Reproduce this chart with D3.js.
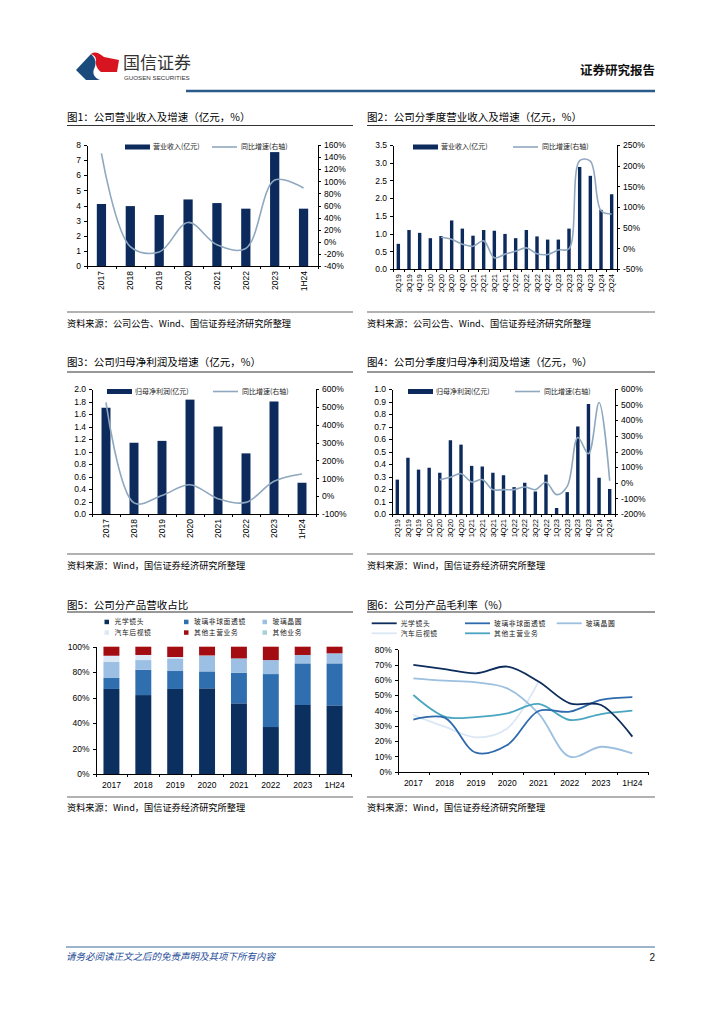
<!DOCTYPE html>
<meta charset="utf-8">
<style>
body { margin: 0; background: #fff; }
svg text { font-family: "Liberation Sans", Arial, sans-serif; }
.cn { font-family: "Noto Sans CJK SC", sans-serif; }
.axis path, .axis line { stroke: #000; shape-rendering: crispEdges; }
.axis text { font-family: "Liberation Sans", Arial, sans-serif; fill: #000; }
</style>
<body>
<script src="https://d3js.org/d3.v7.min.js"></script>
<script>
// ---------------- data ----------------
var years = ["2017", "2018", "2019", "2020", "2021", "2022", "2023", "1H24"];
var quarters = ["2Q19", "3Q19", "4Q19", "1Q20", "2Q20", "3Q20", "4Q20", "1Q21", "2Q21", "3Q21", "4Q21",
                "1Q22", "2Q22", "3Q22", "4Q22", "1Q23", "2Q23", "3Q23", "4Q23", "1Q24", "2Q24"];

// fig 1
var revenue = [4.10, 3.96, 3.37, 4.40, 4.16, 3.79, 7.53, 3.79];
var revenueYoy = [146, -8, -17, 32, -5, -11, 102, 89];
// fig 2
var qRevenue = [0.71, 1.10, 1.02, 0.87, 0.93, 1.37, 1.14, 0.94, 1.10, 1.08, 0.99,
                0.87, 1.10, 0.92, 0.83, 0.83, 1.14, 2.88, 2.63, 1.67, 2.11];
var qRevenueYoy = [null, null, null, null, 27, 22, 10, 5, 18, -23, -14,
                   -7, 1, -13, -15, -4, -1, 212, 211, 91, 83];
// fig 3
var npYears = ["2017", "2018", "2019", "2020", "2021", "2022", "2023", "1H24"];
var netProfit = [1.70, 1.14, 1.17, 1.83, 1.40, 0.97, 1.80, 0.50];
var netProfitYoy = [525, -38, 4, 64, -14, -35, 83, 124];
// fig 4
var qNetProfit = [0.275, 0.45, 0.355, 0.37, 0.33, 0.59, 0.555, 0.385, 0.38, 0.33, 0.31,
                  0.215, 0.25, 0.18, 0.315, 0.048, 0.175, 0.70, 0.88, 0.29, 0.20];
var qNetProfitYoy = [null, null, null, null, 20, 35, 58, 5, 20, -44, -44,
                     -44, -27, -44, 3, -76, -23, 290, 186, 514, 13];
// fig 5 (share of revenue, %)
var products = ["光学镜头", "玻璃非球面透镜", "玻璃晶圆", "汽车后视镜", "其他主营业务", "其他业务"];
var shareOptical   = [66.8, 62.0, 66.8, 67.3, 55.5, 36.9, 54.2, 53.9];
var shareAspheric  = [8.6, 19.9, 14.1, 13.3, 24.1, 41.6, 32.7, 33.0];
var shareWafer     = [12.8, 7.6, 9.9, 12.3, 11.2, 11.0, 6.6, 7.9];
var shareMirror    = [4.7, 4.0, 1.1, 0.2, 0, 0, 0, 0];
var shareOtherMain = [7.1, 6.5, 8.1, 6.9, 9.2, 10.5, 6.5, 5.2];
var shareOther     = [0, 0, 0, 0, 0, 0, 0, 0];
// fig 6 (gross margin, %)
var marginNames = ["光学镜头", "玻璃非球面透镜", "玻璃晶圆", "汽车后视镜", "其他主营业务"];
var marginOptical   = [69.8, 67.1, 64.3, 68.7, 58.9, 44.7, 43.6, 22.9];
var marginAspheric  = [34.0, 35.3, 12.4, 17.4, 39.7, 39.2, 46.9, 48.8];
var marginWafer     = [61.0, 59.5, 58.4, 54.5, 38.1, 9.8, 16.3, 12.0];
var marginMirror    = [37.0, 29.4, 22.5, 28.3, 58.9, null, null, null];
var marginOtherMain = [50.1, 36.0, 35.7, 38.1, 44.3, 33.8, 37.7, 39.9];

var barColor = "#0c2a5b", lineColor = "#8fa8bf";
var pct = function(d) { return d + "%"; };

var svg = d3.select("body").append("svg").attr("width", 724).attr("height", 1024);

// ---------------- header / footer ----------------
// logo: blue wedge on the left, red flag on the right
svg.append("path").attr("d", "M76,70 L91,54 C97,59 96,65 94,69 C92,74 95,78 100,80 L86,80 Z").attr("fill", "#1b4a7d");
svg.append("path").attr("d", "M91,54 C95,51 99,53 104,57 L119,60 L117,72 L101,72 C97,69 95,64 96,60 C96,57 94,55 91,54 Z").attr("fill", "#d7141f");
svg.append("text").attr("class", "cn").attr("x", 123).attr("y", 69).attr("font-size", 17)
    .attr("fill", "#333").text("国信证券");
svg.append("text").attr("x", 124).attr("y", 79.5).attr("font-size", 6.2).attr("fill", "#333").text("GUOSEN SECURITIES");
svg.append("text").attr("class", "cn").attr("x", 655).attr("y", 75).attr("font-size", 12.5)
    .attr("font-weight", "bold").attr("text-anchor", "end").attr("fill", "#111").text("证券研究报告");
svg.append("line").attr("x1", 186).attr("x2", 655).attr("y1", 91).attr("y2", 91)
    .attr("stroke", "#2a5a8a").attr("stroke-width", 2.5);

svg.append("line").attr("x1", 66).attr("x2", 655).attr("y1", 947).attr("y2", 947)
    .attr("stroke", "#3a6a99").attr("stroke-width", 1);
svg.append("text").attr("class", "cn").attr("x", 66).attr("y", 960).attr("font-size", 9.5)
    .attr("font-style", "italic").attr("fill", "#1f4e9a").text("请务必阅读正文之后的免责声明及其项下所有内容");
svg.append("text").attr("x", 655).attr("y", 961).attr("font-size", 10).attr("text-anchor", "end")
    .attr("fill", "#111").text("2");

// ---------------- helpers ----------------
function frame(x0, x1, titleY, ruleY, sepY, srcY, title, source) {
  svg.append("text").attr("class", "cn").attr("x", x0).attr("y", titleY).attr("font-size", 10.5)
      .attr("fill", "#000").text(title);
  svg.append("line").attr("x1", x0).attr("x2", x1).attr("y1", ruleY).attr("y2", ruleY)
      .attr("stroke", "#333").attr("stroke-width", 1.2);
  svg.append("line").attr("x1", x0).attr("x2", x1).attr("y1", sepY).attr("y2", sepY)
      .attr("stroke", "#999").attr("stroke-width", 1.5);
  svg.append("text").attr("class", "cn").attr("x", x0).attr("y", srcY).attr("font-size", 9.2)
      .attr("fill", "#000").text(source);
}

function styleAxis(g, size) {
  g.attr("font-size", size).attr("font-family", "Liberation Sans, Arial, sans-serif");
  g.selectAll("text").attr("fill", "#000");
}

function bottomTicks(n, left, right, y) {
  var idx = d3.scaleLinear().domain([0, n]).range([left, right]);
  svg.append("g").attr("class", "axis").attr("transform", "translate(0," + y + ")")
      .call(d3.axisBottom(idx).tickValues(d3.range(n + 1)).tickSize(3).tickSizeOuter(0).tickFormat(""));
}

function combo(o) {
  var x = d3.scaleBand().domain(o.cats).range([o.left, o.right]).paddingInner(0.68).paddingOuter(0.34);
  var yL = d3.scaleLinear().domain(o.leftDomain).range([o.bottom, o.top]);
  var yR = d3.scaleLinear().domain(o.rightDomain).range([o.bottom, o.top]);
  var g = svg.append("g");

  g.selectAll("rect").data(o.bars).enter().append("rect")
      .attr("x", function(d, i) { return x(o.cats[i]); })
      .attr("width", x.bandwidth())
      .attr("y", function(d) { return yL(d); })
      .attr("height", function(d) { return yL(0) - yL(d); })
      .attr("fill", barColor);

  var line = d3.line()
      .defined(function(d) { return d[1] != null; })
      .x(function(d) { return x(d[0]) + x.bandwidth() / 2; })
      .y(function(d) { return yR(d[1]); })
      .curve(d3.curveCatmullRom.alpha(0.5));
  g.append("path").datum(o.cats.map(function(c, i) { return [c, o.yoy[i]]; }))
      .attr("d", line).attr("fill", "none").attr("stroke", lineColor).attr("stroke-width", 1.6);

  styleAxis(svg.append("g").attr("class", "axis").attr("transform", "translate(" + o.left + ",0)")
      .call(d3.axisLeft(yL).tickValues(o.leftTicks).tickSize(3).tickSizeOuter(0).tickFormat(o.leftFmt)), 8.5);
  styleAxis(svg.append("g").attr("class", "axis").attr("transform", "translate(" + o.right + ",0)")
      .call(d3.axisRight(yR).tickValues(o.rightTicks).tickSize(3).tickSizeOuter(0).tickFormat(pct)), 8.5);

  bottomTicks(o.cats.length, o.left, o.right, o.bottom);
  var xa = svg.append("g").attr("class", "axis").attr("transform", "translate(0," + o.bottom + ")")
      .call(d3.axisBottom(x).tickSize(0));
  xa.select(".domain").remove();
  styleAxis(xa, o.xFont);
  xa.selectAll("text").attr("transform", "rotate(-90)").attr("text-anchor", "end")
      .attr("x", -5).attr("y", 0).attr("dy", "0.35em");

  // legend
  svg.append("rect").attr("x", o.lg[0]).attr("y", o.lg[1] - 2.5).attr("width", 25).attr("height", 5).attr("fill", barColor);
  svg.append("text").attr("class", "cn").attr("x", o.lg[0] + 28).attr("y", o.lg[1]).attr("dy", "0.35em")
      .attr("font-size", 7).attr("fill", "#222").text(o.barName);
  svg.append("line").attr("x1", o.lg[2]).attr("x2", o.lg[2] + 25).attr("y1", o.lg[1]).attr("y2", o.lg[1])
      .attr("stroke", lineColor).attr("stroke-width", 1.6);
  svg.append("text").attr("class", "cn").attr("x", o.lg[2] + 29).attr("y", o.lg[1]).attr("dy", "0.35em")
      .attr("font-size", 7).attr("fill", "#222").text("同比增速(右轴)");
}

// ---------------- fig 1 ----------------
frame(67, 353, 121, 125.5, 312, 327, "图1：公司营业收入及增速（亿元，%）", "资料来源：公司公告、Wind、国信证券经济研究所整理");
combo({ cats: years, bars: revenue, yoy: revenueYoy, left: 87, right: 318, top: 145, bottom: 266,
  leftDomain: [0, 8], leftTicks: d3.range(0, 9), leftFmt: d3.format("d"),
  rightDomain: [-40, 160], rightTicks: d3.range(-40, 161, 20), xFont: 8.5,
  lg: [125, 147, 212], barName: "营业收入(亿元)" });

// ---------------- fig 2 ----------------
frame(367, 655, 121, 125.5, 312, 327, "图2：公司分季度营业收入及增速（亿元，%）", "资料来源：公司公告、Wind、国信证券经济研究所整理");
combo({ cats: quarters, bars: qRevenue, yoy: qRevenueYoy, left: 393, right: 617, top: 145, bottom: 269,
  leftDomain: [0, 3.5], leftTicks: d3.range(0, 3.51, 0.5), leftFmt: d3.format(".1f"),
  rightDomain: [-50, 250], rightTicks: d3.range(-50, 251, 50), xFont: 7.5,
  lg: [413, 147, 513], barName: "营业收入(亿元)" });

// ---------------- fig 3 ----------------
frame(67, 353, 366, 372, 554, 569, "图3：公司归母净利润及增速（亿元，%）", "资料来源：Wind，国信证券经济研究所整理");
combo({ cats: npYears, bars: netProfit, yoy: netProfitYoy, left: 92, right: 316, top: 389, bottom: 514,
  leftDomain: [0, 2], leftTicks: d3.range(0, 2.01, 0.2), leftFmt: d3.format(".1f"),
  rightDomain: [-100, 600], rightTicks: d3.range(-100, 601, 100), xFont: 8.5,
  lg: [107, 391.5, 213], barName: "归母净利润(亿元)" });

// ---------------- fig 4 ----------------
frame(367, 655, 366, 372, 554, 569, "图4：公司分季度归母净利润及增速（亿元，%）", "资料来源：Wind，国信证券经济研究所整理");
combo({ cats: quarters, bars: qNetProfit, yoy: qNetProfitYoy, left: 392, right: 615, top: 389, bottom: 514,
  leftDomain: [0, 1], leftTicks: d3.range(0, 1.01, 0.1), leftFmt: d3.format(".1f"),
  rightDomain: [-200, 600], rightTicks: d3.range(-200, 601, 100), xFont: 7.5,
  lg: [408, 391.5, 515], barName: "归母净利润(亿元)" });

// ---------------- fig 5 ----------------
frame(67, 353, 609, 612, 797, 811, "图5：公司分产品营收占比", "资料来源：Wind，国信证券经济研究所整理");
(function() {
  var left = 95.5, right = 350.5, top = 646.7, bottom = 774;
  var colors = ["#0b2f5f", "#2f6fb0", "#9cc0e3", "#dce8f5", "#a30d12", "#a9cfd8"];
  var series = [shareOptical, shareAspheric, shareWafer, shareMirror, shareOtherMain, shareOther];
  var table = years.map(function(y, i) {
    var row = { year: y };
    products.forEach(function(p, k) { row[p] = series[k][i]; });
    return row;
  });
  var stack = d3.stack().keys(products)(table);
  var x = d3.scaleBand().domain(years).range([left, right]).paddingInner(0.5).paddingOuter(0.25);
  var y = d3.scaleLinear().domain([0, 100]).range([bottom, top]);

  svg.append("g").selectAll("g").data(stack).enter().append("g")
      .attr("fill", function(d, k) { return colors[k]; })
    .selectAll("rect").data(function(d) { return d; }).enter().append("rect")
      .attr("x", function(d) { return x(d.data.year); })
      .attr("width", x.bandwidth())
      .attr("y", function(d) { return y(d[1]); })
      .attr("height", function(d) { return y(d[0]) - y(d[1]); });

  styleAxis(svg.append("g").attr("class", "axis").attr("transform", "translate(" + left + ",0)")
      .call(d3.axisLeft(y).tickValues(d3.range(0, 101, 20)).tickSize(3).tickSizeOuter(0).tickFormat(pct)), 8.5);
  bottomTicks(years.length, left, right, bottom);
  var xa = svg.append("g").attr("class", "axis").attr("transform", "translate(0," + bottom + ")")
      .call(d3.axisBottom(x).tickSize(0).tickPadding(8));
  xa.select(".domain").remove();
  styleAxis(xa, 8.5);

  var cols = [106.5, 186, 264.5], rows = [621.7, 632.3];
  products.forEach(function(p, k) {
    var cx = cols[k % 3], cy = rows[Math.floor(k / 3)];
    svg.append("rect").attr("x", cx - 2).attr("y", cy - 2).attr("width", 4.5).attr("height", 4.5).attr("fill", colors[k]);
    svg.append("text").attr("class", "cn").attr("x", cx + 8).attr("y", cy).attr("dy", "0.35em")
        .attr("font-size", 6.8).attr("letter-spacing", 0.6).attr("fill", "#222").text(p);
  });
})();

// ---------------- fig 6 ----------------
frame(367, 655, 609, 612, 797, 811, "图6：公司分产品毛利率（%）", "资料来源：Wind，国信证券经济研究所整理");
(function() {
  var left = 397.7, right = 648, top = 649.3, bottom = 771.7;
  var colors = ["#0c2c5c", "#2e6aac", "#9dbfe0", "#dbe7f4", "#4aa6c0"];
  var series = [marginOptical, marginAspheric, marginWafer, marginMirror, marginOtherMain];
  var x = d3.scaleBand().domain(years).range([left, right]);
  var y = d3.scaleLinear().domain([0, 80]).range([bottom, top]);
  var line = d3.line()
      .defined(function(d) { return d[1] != null; })
      .x(function(d) { return x(d[0]) + x.bandwidth() / 2; })
      .y(function(d) { return y(d[1]); })
      .curve(d3.curveCatmullRom.alpha(0.5));

  var order = [3, 2, 4, 1, 0];
  order.forEach(function(k) {
    svg.append("path").datum(years.map(function(c, i) { return [c, series[k][i]]; }))
        .attr("d", line).attr("fill", "none").attr("stroke", colors[k]).attr("stroke-width", 1.8);
  });

  styleAxis(svg.append("g").attr("class", "axis").attr("transform", "translate(" + left + ",0)")
      .call(d3.axisLeft(y).tickValues(d3.range(0, 81, 10)).tickSize(3).tickSizeOuter(0).tickFormat(pct)), 8.5);
  bottomTicks(years.length, left, right, bottom);
  var xa = svg.append("g").attr("class", "axis").attr("transform", "translate(0," + bottom + ")")
      .call(d3.axisBottom(x).tickSize(0).tickPadding(8));
  xa.select(".domain").remove();
  styleAxis(xa, 8.5);

  var cols = [371.7, 465, 556.7], rows = [623.3, 633.3];
  marginNames.forEach(function(p, k) {
    var cx = cols[k % 3], cy = rows[Math.floor(k / 3)];
    svg.append("line").attr("x1", cx).attr("x2", cx + 25).attr("y1", cy).attr("y2", cy)
        .attr("stroke", colors[k]).attr("stroke-width", 1.8);
    svg.append("text").attr("class", "cn").attr("x", cx + 29).attr("y", cy).attr("dy", "0.35em")
        .attr("font-size", 6.8).attr("letter-spacing", 0.6).attr("fill", "#222").text(p);
  });
})();
</script>
</body>
